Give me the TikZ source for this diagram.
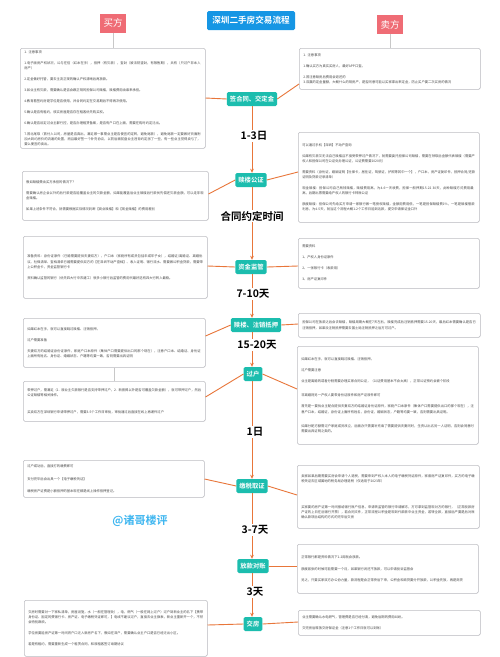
\documentclass[tikz,border=0pt]{standalone}
\usepackage{fontspec}
\usetikzlibrary{arrows.meta,shadows,calc}
\newfontfamily\cjk{Noto Sans CJK SC}[BoldFont={Noto Sans CJK SC Bold}]
\XeTeXlinebreaklocale "zh"
\XeTeXlinebreakskip=0pt plus 0.5pt
\definecolor{stagec}{RGB}{28,189,174}
\definecolor{redc}{RGB}{239,108,117}
\definecolor{bluec}{RGB}{22,150,228}
\definecolor{orangec}{RGB}{232,118,58}
\definecolor{grayline}{RGB}{200,200,200}
\definecolor{boxline}{RGB}{190,190,195}
\definecolor{wmc}{RGB}{62,182,240}
\newcommand\pp{\\[5.8pt]}
\tikzset{
  txtbox/.style={draw=boxline, line width=0.5pt, rounded corners=1.5pt, fill=white,
    drop shadow={opacity=0.12,shadow xshift=0.6pt,shadow yshift=-0.6pt},
    anchor=north west, align=left, inner xsep=4pt, inner ysep=1pt,
    font=\cjk\fontsize{3.3}{5.2}\selectfont, text=black!72},
  stage/.style={fill=stagec, text=white, rounded corners=1.5pt,
    font=\cjk\bfseries\fontsize{6.3}{7}\selectfont, minimum height=14pt,
    inner xsep=3pt, inner ysep=1pt},
  party/.style={fill=redc, text=white, font=\cjk\fontsize{9.5}{10}\selectfont,
    minimum width=26pt, minimum height=19pt, inner sep=0pt},
  timelbl/.style={fill=white, inner sep=1pt, text=black,
    font=\cjk\bfseries\fontsize{10.5}{12}\selectfont},
  spineline/.style={draw=orangec, line width=0.9pt, -{Stealth[length=4pt,width=3.6pt]}},
  conn/.style={draw=orangec, line width=0.9pt},
  gline/.style={draw=grayline, line width=0.6pt}
}
\begin{document}
\begin{tikzpicture}[x=1pt,y=-1pt]
\useasboundingbox (0,0) rectangle (500,657);
\fill[white] (0,0) rectangle (500,657);

% header
\node[fill=bluec, text=white, rounded corners=1.5pt, font=\cjk\bfseries\fontsize{8.6}{9}\selectfont,
  minimum width=88pt, minimum height=19pt, inner sep=0pt] (title) at (251,20.5) {深圳二手房交易流程};
\node[party] (buyer) at (113,23) {买方};
\node[party] (seller) at (390,24.5) {卖方};

% left boxes
\node[txtbox, text width=177pt, minimum height=100pt] (L1) at (20,48) {
1. 注意事项\pp
1.电子版房产权状况，公与在信（红本在手），抵押（有欠款），查封（被法院查封，有限售期），共有（只过户非本人房产）\pp
2.定金做好托管，要去主流正规的确认产权清晰后再放款。\pp
3.如业主有欠款，需要确认是否会跟正规的担保公司赎楼，赎楼费用由谁来承担。\pp
4.教育看签约房是学位是否使用，并合同约定在交易期后不得再次使用。\pp
5.确认是否有租约，核实房屋是否存在租客优先购买权。\pp
6.确认是否设定过业主群行控，是否办理租赁备案，是否有户口在上面，需要在购时约定迁出。\pp
7.首北尾取（首付入公司，房屋是否真出，满足哪一事需业主是否便宜的定转，避免尾款），避免尾款一定要做好页面附加大到约房价的流通的处置，而且最好签一个补充协议，以防后面前盘业主违背约定涨了一些，有一些业主觉得卖亏了，要么便宜的卖出。};

\node[txtbox, text width=178pt, minimum height=49pt] (L2) at (22,171) {
假如赎楼费由买方承担的情况下？\pp
需要确认房企会以外的后行款是否能覆盖业主的欠款金额，如果能覆盖后业主赎楼后行款优先偿还欠款金额，可以走非现金赎楼。\pp
如果上述条件不符合，就需要根据实际情况判断【商业赎楼】和【现金赎楼】的费用差别};

\node[txtbox, text width=176pt, minimum height=62pt] (L3) at (23,236) {
准备资料：身份证原件（已婚需要提供夫妻双方），户口本（家庭所有成员包括未成年子女），结婚证/离婚证、离婚协议、社保清单、查档清单已婚需要提供双方的【在深圳不动产查档】、收入证明、银行流水、需要做公积金贷款，需要带上公积金卡，资金监管银行卡\pp
资料确认监管的银行（优先四大行中农建工）很多小银行后监管的费用代最好选有四大行转入最稳。};

\node[txtbox, text width=174pt, minimum height=49pt] (L4) at (23,318) {
如果红本在手，就可以直接跳过赎楼、注销抵押。\pp
过户需要准备\pp
夫妻双方的结婚证身份证原件，家庭户口本原件（集体户口需要提供出口的那个现在），注意户口本、结婚证、身份证上面所有姓名、身份证、婚姻状态、户籍等均要一致，否则需要出具证明};

\node[txtbox, text width=174pt, minimum height=40pt] (L5) at (23,381) {
带押过户，需满足（1. 原业主欠款银行是否支持带押过户，2. 新按揭以外是否可覆盖欠款金额），就可带押过户，然后公证赎楼等相关操作。\\[11pt]
买卖双方在深圳银行申请带押过户，需要3-5个工作日审批，审批通过后直接在线上再递件过户};

\node[txtbox, text width=173pt, minimum height=37pt] (L6) at (23,460) {
过户成功后，直接打的缴费即可\\[7pt]
支付完毕后会出具一个【电子缴税凭证】\\[7pt]
缴税房产证费是小额抵押的基本现在都是线上操作抵押登记。};

\node[txtbox, text width=175pt, minimum height=56pt] (L7) at (24,600) {
交房时需要对一下家私清单，房屋设施，水（一般在管理处），电，燃气（一般在网上过户）过户到新业主的名下【携带身份证、固定的费银行卡、房产证、电子缴税凭证即可，】电线不建议过户，直接去业主换表，新业主重新开一个，不然会特别麻烦。\pp
学位房要能房产证第一时间将户口迁入新房产名下，假如在深户，需要确认业主户口是否已经迁出小区。\pp
若是有租约，需要重新生成一个租赁合同，和原租客签订续期协议};

% right boxes
\node[txtbox, text width=173pt, minimum height=41pt] (R1) at (299,48) {
1. 注意事项\pp
1.确认买方为真实买房人，最好APP口查。\pp
2.首注意赎房后费用会退还的\\
3.双赢的定金量额，大概什么的规房产，是否同意可能以买家拿出来定金，防止买户要二次买房的情况};

\node[txtbox, text width=173pt, minimum height=90pt] (R2) at (298,132) {
可以通过手机【深圳】不动产查询\pp
如果有欠款又无法自己赎楼且不接受带押过户情况下，就需要委托担保公司赎楼，需要在领取后金额代表赎楼（需要产权人和担保公司在公证处办理公证，公证费需要1020元）\pp
需要资料（身份证，婚姻证明【社保卡，居住证，驾驶证，护照等其中一个】，户口本，房产证复印件，抵押合同/还款证明及贷款记录清单）\pp
现金赎楼：担保公司自己掏钱赎楼，赎楼费用高，为4-6一天收费，担保一般押期15-22 30天，此种赎楼方式费用最高，后期出票需要给产权人的银行卡转账公证\pp
额度赎楼：担保公司先给买方申请一家银行做一笔授权赎楼，金额用费用低，一笔是担保赎楼费1\%，一笔是赎楼借款利息，为4-5天，就当这个流程大概1-2个工作日能到达款，提交申请保证金口外};

\node[txtbox, text width=173pt, minimum height=50pt] (R3) at (298,238) {
需要资料\pp
1、产权人身份证原件\pp
2、一张银行卡（收款用）\pp
3、房产证复印件};

\node[txtbox, text width=174pt, minimum height=24pt] (R4) at (298,313) {
担保公司在放款之后会去赎楼，赎楼周期大概在7天左右，赎楼完成后注销抵押需要15-20天，最后红本需要确认是否已注销抵押，如果没注销抵押需要去国土局注销抵押之后方可过户。};

\node[txtbox, text width=173pt, minimum height=98pt] (R5) at (297,346) {
如果红本在手，就可以直接跳过赎楼、注销抵押。\pp
过户需要注意\pp
业主是离婚的或者分割需要办理买家合同公证，（公证费用基本不会太高），正常公证预约会被个阶段\\[9pt]
非离婚则另一产权人要带身份证原件和房产证原件即可\pp
首先是一要找业主配合提供夫妻双方的结婚证身份证原件，家庭户口本原件（集体户口需要提供出口的那个现在），注意户口本，结婚证，身份证上面所有姓名，身份证，婚姻状态，户籍等均要一致，否则需要出具证明。\\[9pt]
如果分配方额需过户家庭成员改立，后面办只需要补充填了需要提供夫妻同时，生资认出名另一人证明，否则会同意时需要出具证明之类的。};

\node[txtbox, text width=174pt, minimum height=63pt] (R6) at (297,465) {
卖家如果后期需要买房会申请个人退税，需要来到产权人本人的电子缴税凭证原件，家套房产证复印件，买方的电子缴税凭证去区域属地的税务局办理退税（仅适用于2023年）\\[20pt]
买家要的房产证第一时间报给银行账户信息，申请转监管的银行申请解冻，方可拿到监管现对方的银行，（正常股款房产证的上日在后银行开票），若合同文件，正常流程公积金是现到代款款中业主资金，若转全款，直接后产要是后对账确认款项后结构的方式的完毕后交房};

\node[txtbox, text width=173pt, minimum height=49pt] (R7) at (297,544) {
正常银行都是资料情况下1-2周就会放款。\\[7pt]
额度紧张的时候可能需要一个月，如果银行说还不放款，可以申请投诉监督会\\[6pt]
另之，只要买家双方办公协力量，款流程是会正常快后下来，公积金和商贷要分开放款，公积金先放，再是商贷};

\node[txtbox, text width=174pt, minimum height=25pt] (R8) at (298,610) {
业主需要确认水电燃气，管理费是否已经付清，避免后期的费用纠纷。\\[6pt]
交完房后释放交房保证金（注意1个工作日就可以到账）};

% gray connectors
\draw[gline] (buyer.south) -- (buyer.south |- L1.north);
\draw[gline] (seller.south) -- (seller.south |- R1.north);
\draw[gline] (L4.south) -- (L5.north);

% stages
\node[stage] (N1) at (252,99) {签合同、交定金};
\node[stage] (N2) at (251,180) {赎楼公证};
\node[stage] (N3) at (251,267) {资金监管};
\node[stage] (N4) at (256,325) {赎楼、注销抵押};
\node[stage] (N5) at (253,374) {过户};
\node[stage] (N6) at (252,486) {缴税取证};
\node[stage] (N7) at (253,566) {放款对账};
\node[stage] (N8) at (253,624) {交房};

\coordinate (sp) at (252,0);
\draw[spineline] (N1.south -| sp) -- (N2.north -| sp);
\draw[spineline] (N2.south -| sp) -- (N3.north -| sp);
\draw[spineline] (N3.south -| sp) -- (N4.north -| sp);
\draw[spineline] (N4.south -| sp) -- (N5.north -| sp);
\draw[spineline] (N5.south -| sp) -- (N6.north -| sp);
\draw[spineline] (N6.south -| sp) -- (N7.north -| sp);
\draw[spineline] (N7.south -| sp) -- (N8.north -| sp);

% time labels
\node[timelbl] (t1) at (254,136) {1-3日};
\node[timelbl] (t2) at (252,216) {合同约定时间};
\node[timelbl] (t3) at (253,294) {7-10天};
\node[timelbl] (t4) at (257,345) {15-20天};
\node[timelbl] (t5) at (255,432) {1日};
\node[timelbl] (t6) at (255,530) {3-7天};
\node[timelbl] (t7) at (255,592) {3天};

% side connectors
\draw[conn] (N1.west) -- (L1.east |- 0,98);
\draw[conn] (N1.east) -- (R1.west |- 0,84);
\draw[conn] (N2.west) -- (L2.east |- 0,194);
\draw[conn] (N2.east) -- (R2.west |- 0,172);
\draw[conn] (N3.west) -- (L3.east |- 0,266);
\draw[conn] (N3.east) -- (R3.west |- 0,266);
\draw[conn] (N4.west) -- (L4.east |- 0,336);
\draw[conn] (N4.east) -- (R4.west |- 0,324);
\draw[conn] (N5.west) -- (L5.east |- 0,397);
\draw[conn] (N5.east) -- (R5.west |- 0,389);
\draw[conn] (N6.west) -- (L6.east |- 0,479);
\draw[conn] (N6.east) -- (R6.west |- 0,495);
\draw[conn] (N7.east) -- (R7.west |- 0,566);
\draw[conn] (N8.west) -- (L7.east |- 0,625);
\draw[conn] (N8.east) -- (R8.west |- 0,622);

% watermark
\node[text=wmc, font=\cjk\bfseries\fontsize{11}{12}\selectfont, inner sep=0pt] (wm) at (140,521) {@诸哥楼评};
\end{tikzpicture}
\end{document}
